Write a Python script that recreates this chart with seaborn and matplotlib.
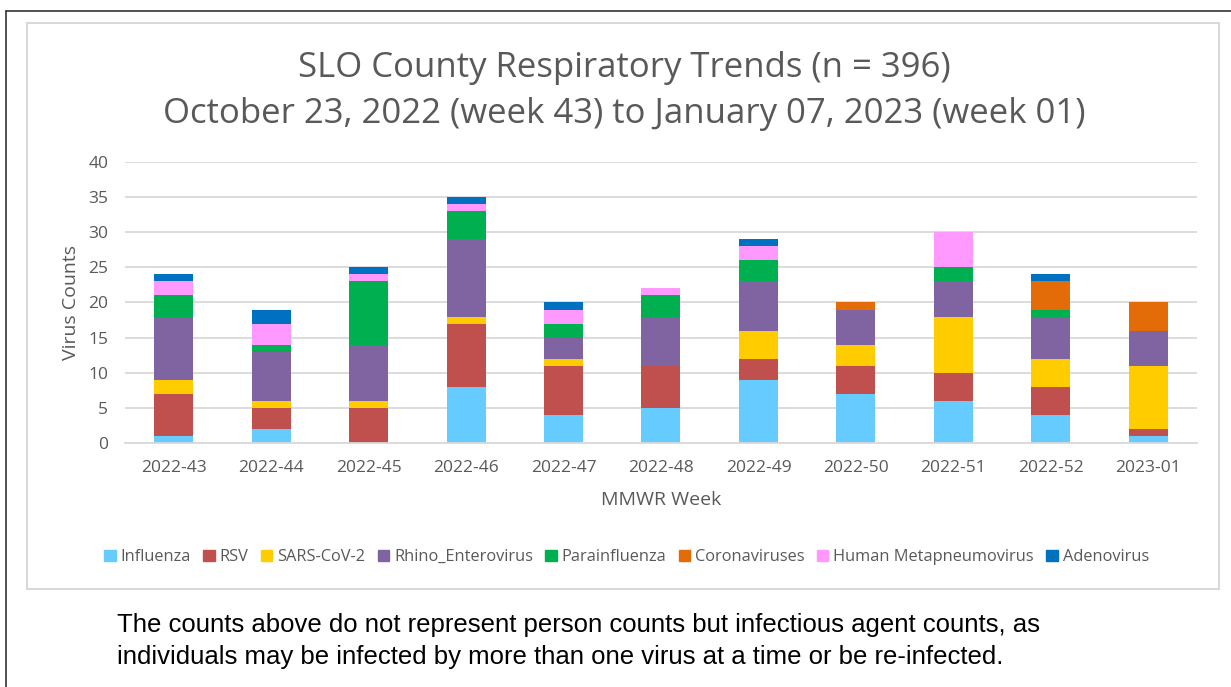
import matplotlib
matplotlib.use("Agg")
import matplotlib.pyplot as plt
from matplotlib.patches import Patch, Rectangle
from matplotlib.lines import Line2D
import seaborn as sns
import pandas as pd
import numpy as np

# ------------------------------
# Data
# ------------------------------
weeks = ["2022-43", "2022-44", "2022-45", "2022-46", "2022-47", "2022-48",
         "2022-49", "2022-50", "2022-51", "2022-52", "2023-01"]
influenza = [1, 2, 0, 8, 4, 5, 9, 7, 6, 4, 1]
rsv = [6, 3, 5, 9, 7, 6, 3, 4, 4, 4, 1]
sars_cov2 = [2, 1, 1, 1, 1, 0, 4, 3, 8, 4, 9]
rhino = [9, 7, 8, 11, 3, 7, 7, 5, 5, 6, 5]
parainfluenza = [3, 1, 9, 4, 2, 3, 3, 0, 2, 1, 0]
corona = [0, 0, 0, 0, 0, 0, 0, 1, 0, 4, 4]
hmpv = [2, 3, 1, 1, 2, 1, 2, 0, 5, 0, 0]
adeno = [1, 2, 1, 1, 1, 0, 1, 0, 0, 1, 0]

series = {
    "Influenza": influenza,
    "RSV": rsv,
    "SARS-CoV-2": sars_cov2,
    "Rhino_Enterovirus": rhino,
    "Parainfluenza": parainfluenza,
    "Coronaviruses": corona,
    "Human Metapneumovirus": hmpv,
    "Adenovirus": adeno,
}
colors = ["#66CCFF", "#C0504D", "#FFCC00", "#8064A2",
          "#00B050", "#E36C09", "#FF99FF", "#0070C0"]

df = pd.DataFrame(series, index=weeks)
df.index.name = "Week"

# ------------------------------
# Figure
# ------------------------------
sns.set_style("white")
plt.rcParams["font.family"] = ["Open Sans", "DejaVu Sans"]
grey = "#595959"

fig = plt.figure(figsize=(12.31, 6.87), dpi=100)
ax = fig.add_axes([0.1015, 0.3552, 0.8709, 0.4090])

bottom = np.zeros(len(weeks))
for (name, vals), col in zip(series.items(), colors):
    sns.barplot(x=weeks, y=vals, color=col, width=0.4, bottom=bottom,
                ax=ax, saturation=1, linewidth=0)
    bottom += np.array(vals)

ax.set_ylim(0, 40)
ax.set_yticks(range(0, 41, 5))
ax.yaxis.grid(True, color="#D9D9D9", linewidth=1.3)
ax.set_axisbelow(True)
for s in ["top", "right", "left"]:
    ax.spines[s].set_visible(False)
ax.spines["bottom"].set_color("#D9D9D9")
ax.spines["bottom"].set_linewidth(1.3)
ax.tick_params(axis="both", length=0, labelsize=12.5, labelcolor=grey, pad=12)
ax.set_xlabel("MMWR Week", fontsize=14, color=grey, labelpad=11)
ax.set_ylabel("Virus Counts", fontsize=14, color=grey, labelpad=6)

fig.text(0.507, 0.901, "SLO County Respiratory Trends (n = 396)",
         ha="center", va="center", fontsize=25, color=grey)
fig.text(0.507, 0.834, "October 23, 2022 (week 43) to January 07, 2023 (week 01)",
         ha="center", va="center", fontsize=25, color=grey)

handles = [Patch(color=c, label=n) for n, c in zip(series.keys(), colors)]
fig.legend(handles=handles, loc="center", bbox_to_anchor=(0.509, 0.189),
           ncol=8, frameon=False, fontsize=11.8, handlelength=0.7,
           handleheight=0.7, handletextpad=0.3, columnspacing=0.75,
           labelcolor=grey)

# chart frame and outer border
fig.add_artist(Rectangle((27 / 1231, 1 - 589 / 687), (1219 - 27) / 1231,
                         (589 - 23) / 687, transform=fig.transFigure,
                         fill=False, edgecolor="#D9D9D9", linewidth=1.5))
fig.add_artist(Line2D([6 / 1231, 1], [1 - 11 / 687, 1 - 11 / 687],
                      transform=fig.transFigure, color="#333333", linewidth=1.2))
fig.add_artist(Line2D([6 / 1231, 6 / 1231], [0, 1 - 11 / 687],
                      transform=fig.transFigure, color="#333333", linewidth=1.2))

caption = ("The counts above do not represent person counts but infectious agent counts, as\n"
           "individuals may be infected by more than one virus at a time or be re-infected.")
fig.text(117 / 1231, 1 - 641 / 687, caption, ha="left", va="center",
         fontsize=18.5, family=["Liberation Sans", "DejaVu Sans"],
         color="black", linespacing=1.38)

fig.savefig("out.png", dpi=100)
